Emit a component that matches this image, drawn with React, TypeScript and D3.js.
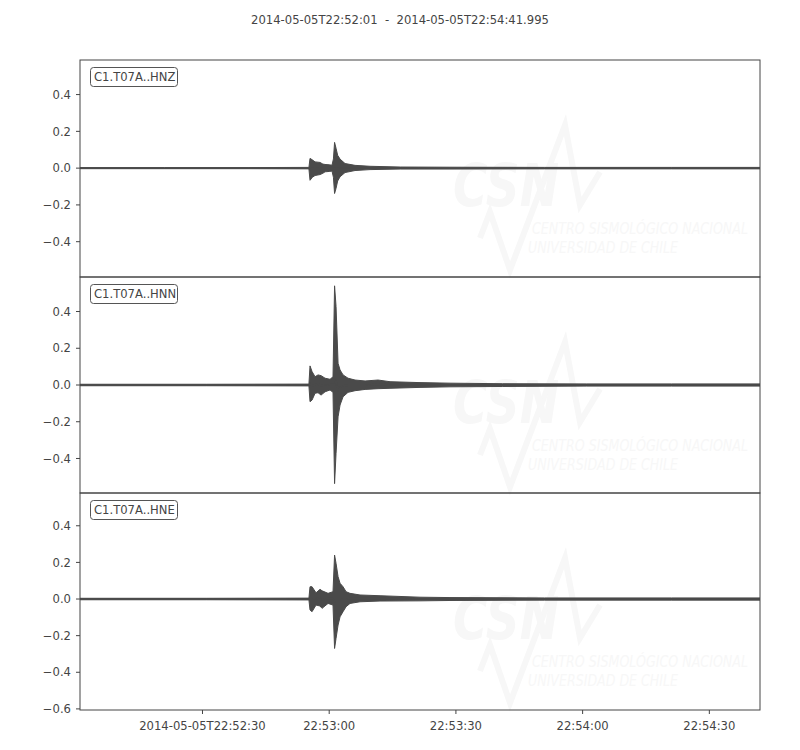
import React from "react";
import * as d3 from "d3";

// ---- data (seconds after 2014-05-05T22:52:01, envelope amplitudes) ----
const title = "2014-05-05T22:52:01  -  2014-05-05T22:54:41.995";
const traceLabels = ["C1.T07A..HNZ", "C1.T07A..HNN", "C1.T07A..HNE"];
const duration = 160.995;

const hnzT = [0, 20, 40, 54.2, 54.46, 55.0, 55.65, 56.83, 57.5, 58.02, 59.0, 59.67, 60.0, 60.27, 60.62, 61.0, 61.57, 62.75, 65.12, 68.67, 75.8, 87.6, 110, 140, 161];
const hnzUp = [0.003, 0.003, 0.003, 0.004, 0.053, 0.045, 0.034, 0.031, 0.022, 0.02, 0.018, 0.016, 0.05, 0.14, 0.108, 0.07, 0.049, 0.025, 0.015, 0.01, 0.006, 0.005, 0.004, 0.004, 0.004];
const hnzLo = [-0.003, -0.003, -0.003, -0.004, -0.066, -0.05, -0.04, -0.035, -0.028, -0.02, -0.018, -0.016, -0.05, -0.138, -0.11, -0.07, -0.047, -0.024, -0.013, -0.008, -0.005, -0.005, -0.004, -0.004, -0.004];

const hnnT = [0, 30, 54.2, 54.46, 54.94, 55.65, 56.36, 57.07, 58.02, 59.2, 59.9, 60.27, 60.62, 61.1, 61.57, 62.28, 63.46, 65.12, 67.5, 70.57, 73.4, 80.5, 87.6, 100, 120, 140, 161];
const hnnUp = [0.004, 0.004, 0.005, 0.104, 0.073, 0.045, 0.055, 0.051, 0.037, 0.031, 0.045, 0.54, 0.428, 0.118, 0.082, 0.055, 0.037, 0.027, 0.022, 0.027, 0.018, 0.013, 0.01, 0.007, 0.006, 0.006, 0.006];
const hnnLo = [-0.004, -0.004, -0.005, -0.091, -0.082, -0.045, -0.042, -0.055, -0.037, -0.027, -0.04, -0.537, -0.373, -0.173, -0.109, -0.064, -0.04, -0.031, -0.024, -0.02, -0.018, -0.013, -0.01, -0.008, -0.006, -0.006, -0.006];

const hneT = [0, 30, 54.2, 54.46, 54.94, 55.88, 56.83, 57.3, 58.73, 59.9, 60.27, 60.62, 61.1, 61.57, 62.28, 62.99, 63.93, 66.3, 71.04, 80.5, 87.6, 110, 140, 161];
const hneUp = [0.004, 0.004, 0.005, 0.067, 0.067, 0.034, 0.053, 0.045, 0.031, 0.04, 0.24, 0.195, 0.122, 0.086, 0.067, 0.04, 0.031, 0.022, 0.018, 0.01, 0.008, 0.006, 0.006, 0.006];
const hneLo = [-0.004, -0.004, -0.005, -0.06, -0.069, -0.033, -0.038, -0.051, -0.024, -0.033, -0.27, -0.215, -0.142, -0.097, -0.069, -0.042, -0.024, -0.015, -0.011, -0.01, -0.008, -0.006, -0.006, -0.006];

const yTicksTop = [-0.4, -0.2, 0.0, 0.2, 0.4];
const yTicksBottom = [-0.6, -0.4, -0.2, 0.0, 0.2, 0.4];
const yDomains: [number, number][] = [[-0.592, 0.588], [-0.588, 0.588], [-0.606, 0.579]];
const xTickSeconds = [29, 59, 89, 119, 149];
const xTickLabels = ["2014-05-05T22:52:30", "22:53:00", "22:53:30", "22:54:00", "22:54:30"];

const traces = [
  { t: hnzT, up: hnzUp, lo: hnzLo },
  { t: hnnT, up: hnnUp, lo: hnnLo },
  { t: hneT, up: hneUp, lo: hneLo },
];

const LEFT = 80, RIGHT = 760;
const panelTops = [60, 277, 493];
const panelBottoms = [277, 493, 710];
const FONT = "'DejaVu Sans', sans-serif";
const FS = 11.6;
const TXT = "#444";
const WAVE = "#4a4a4a";
const WM = "#f7f7f7";
const SX = 0.8;

function fmt(v: number) {
  const s = Math.abs(v).toFixed(1);
  return v < 0 ? "\u2212" + s : s;
}

export default function App() {
  const x = d3.scaleLinear().domain([0, duration]).range([LEFT, RIGHT]);
  return (
    <svg width={800} height={750} style={{ position: "absolute", left: 0, top: 0, background: "#fff" }} fontFamily={FONT}>
      <rect x={0} y={0} width={800} height={750} fill="#fff" />
      <text x={400} y={24} textAnchor="middle" fontSize={FS} fill={TXT} style={{ whiteSpace: "pre" }} xmlSpace="preserve">{title}</text>
      <defs>
        {panelTops.map((top, i) => (
          <clipPath id={`clip${i}`} key={i}>
            <rect x={LEFT} y={top} width={RIGHT - LEFT} height={panelBottoms[i] - top} />
          </clipPath>
        ))}
      </defs>
      {traces.map((tr, i) => {
        const top = panelTops[i];
        const bottom = panelBottoms[i];
        const y = d3.scaleLinear().domain(yDomains[i]).range([bottom, top]);
        const idx = d3.range(tr.t.length);
        const area = d3.area<number>()
          .x((k) => x(tr.t[k]))
          .y0((k) => y(tr.lo[k]))
          .y1((k) => y(tr.up[k]));
        const mid = d3.line<number>()
          .x((k) => x(tr.t[k]))
          .y((k) => y((tr.up[k] + tr.lo[k]) / 2));
        const ticks = i === 2 ? yTicksBottom : yTicksTop;
        const zz = [[480, 238], [490, 212], [510, 270], [565, 125], [580, 205], [600, 172]];
        return (
          <g key={i}>
            {/* watermark */}
            <g>
              <polyline points={zz.map(([px, py]) => `${px},${py - 60 + top}`).join(" ")} fill="none" stroke={WM} strokeWidth={6} strokeLinejoin="miter" />
              <text x={453} y={top + 146} fontSize={58} fontWeight="bold" fontStyle="italic" fill={WM} textLength={106} lengthAdjust="spacingAndGlyphs">CSN</text>
              <g transform={`translate(532,${top + 174}) scale(${SX},1)`}>
                <text x={0} y={0} fontSize={15} fontStyle="italic" fill={WM} textLength={216 / SX} lengthAdjust="spacingAndGlyphs">CENTRO SISMOLÓGICO NACIONAL</text>
              </g>
              <g transform={`translate(528,${top + 193}) scale(${SX},1)`}>
                <text x={0} y={0} fontSize={15} fontStyle="italic" fill={WM} textLength={150 / SX} lengthAdjust="spacingAndGlyphs">UNIVERSIDAD DE CHILE</text>
              </g>
            </g>
            <g clipPath={`url(#clip${i})`}>
              <path d={area(idx) || ""} fill={WAVE} stroke={WAVE} strokeWidth={1} strokeLinejoin="round" />
              <path d={mid(idx) || ""} fill="none" stroke={WAVE} strokeWidth={1.5} />
            </g>
            <rect x={LEFT} y={top} width={RIGHT - LEFT} height={bottom - top} fill="none" stroke={TXT} strokeWidth={1} />
            {ticks.map((v) => (
              <g key={v}>
                <line x1={LEFT - 4} x2={LEFT} y1={y(v)} y2={y(v)} stroke={TXT} strokeWidth={1} />
                <text x={LEFT - 9} y={y(v)} dy="0.36em" textAnchor="end" fontSize={FS} fill={TXT}>{fmt(v)}</text>
              </g>
            ))}
            <rect x={90.5} y={top + 7.5} width={87} height={19} rx={3} fill="#fff" stroke="#555" strokeWidth={1} />
            <text x={94} y={top + 21} fontSize={FS} fill={TXT}>{traceLabels[i]}</text>
          </g>
        );
      })}
      {xTickSeconds.map((s, k) => (
        <g key={s}>
          <line x1={x(s)} x2={x(s)} y1={710} y2={714} stroke={TXT} strokeWidth={1} />
          <text x={x(s)} y={730} textAnchor="middle" fontSize={FS} fill={TXT}>{xTickLabels[k]}</text>
        </g>
      ))}
    </svg>
  );
}
